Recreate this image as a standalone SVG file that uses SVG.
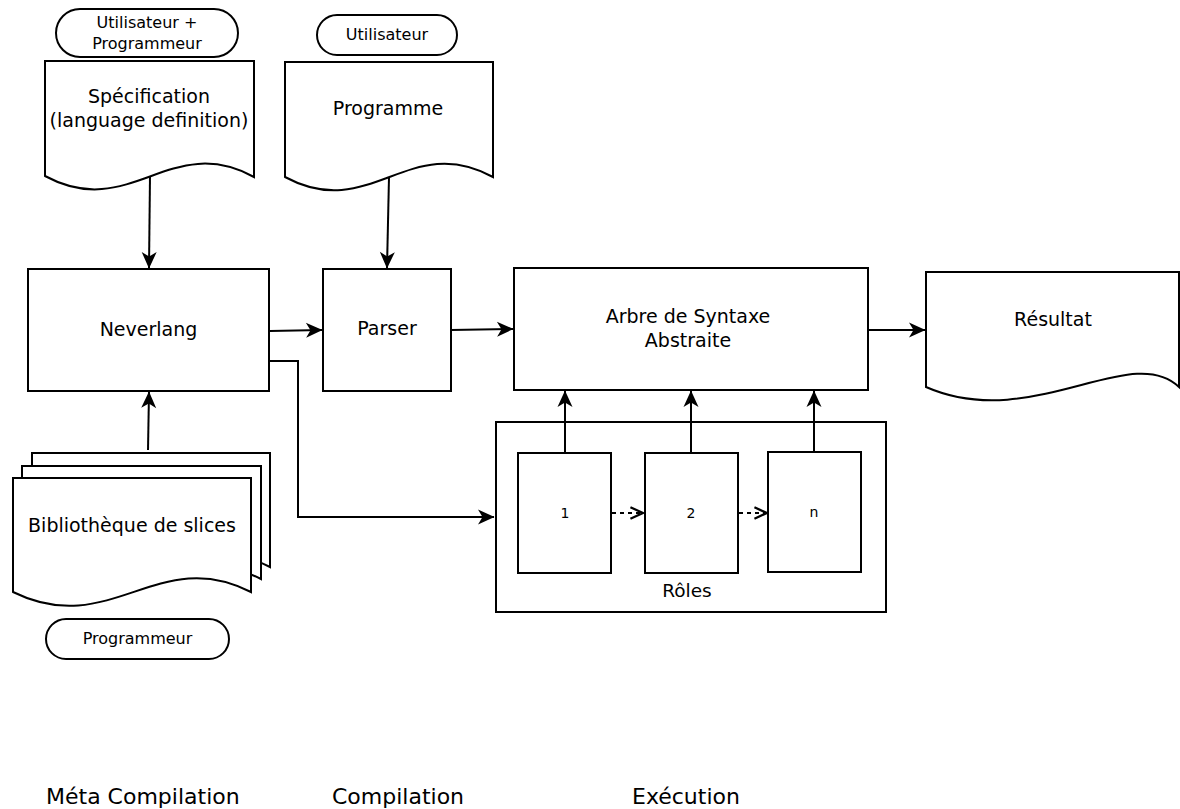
<svg xmlns="http://www.w3.org/2000/svg" width="1180" height="809" viewBox="0 0 1180 809">
<style>
.s{fill:#fff;stroke:#000;stroke-width:2}
.t{font-family:"DejaVu Sans",Verdana,sans-serif;fill:#000;text-anchor:middle}
.st{text-anchor:start}
.l{fill:none;stroke:#000;stroke-width:2}
.d{fill:none;stroke:#000;stroke-width:2;stroke-dasharray:4,4}
</style>
<defs>
<marker id="a" markerUnits="userSpaceOnUse" markerWidth="18" markerHeight="16" viewBox="-17 -8 18 16" refX="0" refY="0" orient="auto">
<path d="M0.5,0 L-16,-7.5 L-11.5,0 L-16,7.5 Z" fill="#000"/>
</marker>
<marker id="o" markerUnits="userSpaceOnUse" markerWidth="16" markerHeight="16" viewBox="-13 -7 14 14" refX="0" refY="0" orient="auto">
<path d="M-11,-5 L0,0 L-11,5" fill="none" stroke="#000" stroke-width="2"/>
</marker>
</defs>
<rect width="1180" height="809" fill="#fff"/>

<g id="actor-utilisateur-programmeur">
<rect class="s" x="56" y="9" width="182" height="48" rx="24"/>
<text class="t" x="147" y="28" font-size="16">Utilisateur +</text>
<text class="t" x="147" y="49" font-size="16">Programmeur</text>
</g>

<g id="actor-utilisateur">
<rect class="s" x="317" y="15" width="140" height="40" rx="20"/>
<text class="t" x="387" y="40" font-size="16">Utilisateur</text>
</g>

<g id="specification">
<path class="s" d="M45,61 H254 V177 C170,131 130,222 45,176 Z"/>
<text class="t" x="149" y="103" font-size="19">Spécification</text>
<text class="t" x="149" y="127" font-size="19">(language definition)</text>
</g>

<g id="programme">
<path class="s" d="M285,62 H493 V177 C409,131 370,223 285,177 Z"/>
<text class="t" x="388" y="115" font-size="19">Programme</text>
</g>

<g id="neverlang">
<rect class="s" x="28" y="269" width="241" height="122"/>
<text class="t" x="148.5" y="336" font-size="19">Neverlang</text>
</g>

<g id="parser">
<rect class="s" x="323" y="269" width="128" height="122"/>
<text class="t" x="387" y="335" font-size="19">Parser</text>
</g>

<g id="arbre">
<rect class="s" x="514" y="268" width="354" height="122"/>
<text class="t" x="688" y="323" font-size="19">Arbre de Syntaxe</text>
<text class="t" x="688" y="347" font-size="19">Abstraite</text>
</g>

<g id="resultat">
<path class="s" d="M926,272 H1179 V387 C1131,341 1031,433 926,387 Z"/>
<text class="t" x="1053" y="326" font-size="19">Résultat</text>
</g>

<g id="bibliotheque">
<path class="s" d="M32,453 H270 V567 C177,519 129,615 32,567 Z"/>
<path class="s" d="M22,466 H261 V579 C168,531 119,627 22,579 Z"/>
<path class="s" d="M13,478 H251 V592 C158,544 110,640 13,592 Z"/>
<text class="t" x="132" y="532" font-size="19">Bibliothèque de slices</text>
</g>

<g id="actor-programmeur">
<rect class="s" x="46" y="619" width="183" height="40" rx="20"/>
<text class="t" x="137.5" y="644" font-size="16">Programmeur</text>
</g>

<g id="roles">
<rect class="s" x="496" y="422" width="390" height="190"/>
<text class="t" x="687" y="597" font-size="18.5">Rôles</text>
</g>

<g id="role-1">
<rect class="s" x="518" y="453" width="93" height="120"/>
<text class="t" x="565" y="518" font-size="14">1</text>
</g>

<g id="role-2">
<rect class="s" x="645" y="453" width="93" height="120"/>
<text class="t" x="691" y="518" font-size="14">2</text>
</g>

<g id="role-n">
<rect class="s" x="768" y="452" width="93" height="120"/>
<text class="t" x="814" y="517" font-size="14">n</text>
</g>

<g id="phases">
<text class="t st" x="46" y="804" font-size="22">Méta Compilation</text>
<text class="t st" x="332" y="804" font-size="22">Compilation</text>
<text class="t st" x="632" y="804" font-size="22">Exécution</text>
</g>

<g id="connectors">
<path class="l" d="M150,176 L149,268" marker-end="url(#a)"/>
<path class="l" d="M389,177 L387,268" marker-end="url(#a)"/>
<path class="l" d="M148,450 L149,392" marker-end="url(#a)"/>
<path class="l" d="M270,331 L322,330" marker-end="url(#a)"/>
<path class="l" d="M451,330 L513,329" marker-end="url(#a)"/>
<path class="l" d="M868,330 L925,330" marker-end="url(#a)"/>
<path class="l" d="M270,361 H298 V517 H494" marker-end="url(#a)"/>
<path class="l" d="M565,452 V391" marker-end="url(#a)"/>
<path class="l" d="M691,452 V391" marker-end="url(#a)"/>
<path class="l" d="M814,451 V391" marker-end="url(#a)"/>
<path class="d" d="M612,513 H643" marker-end="url(#o)"/>
<path class="d" d="M739,513 H767" marker-end="url(#o)"/>
</g>
</svg>
